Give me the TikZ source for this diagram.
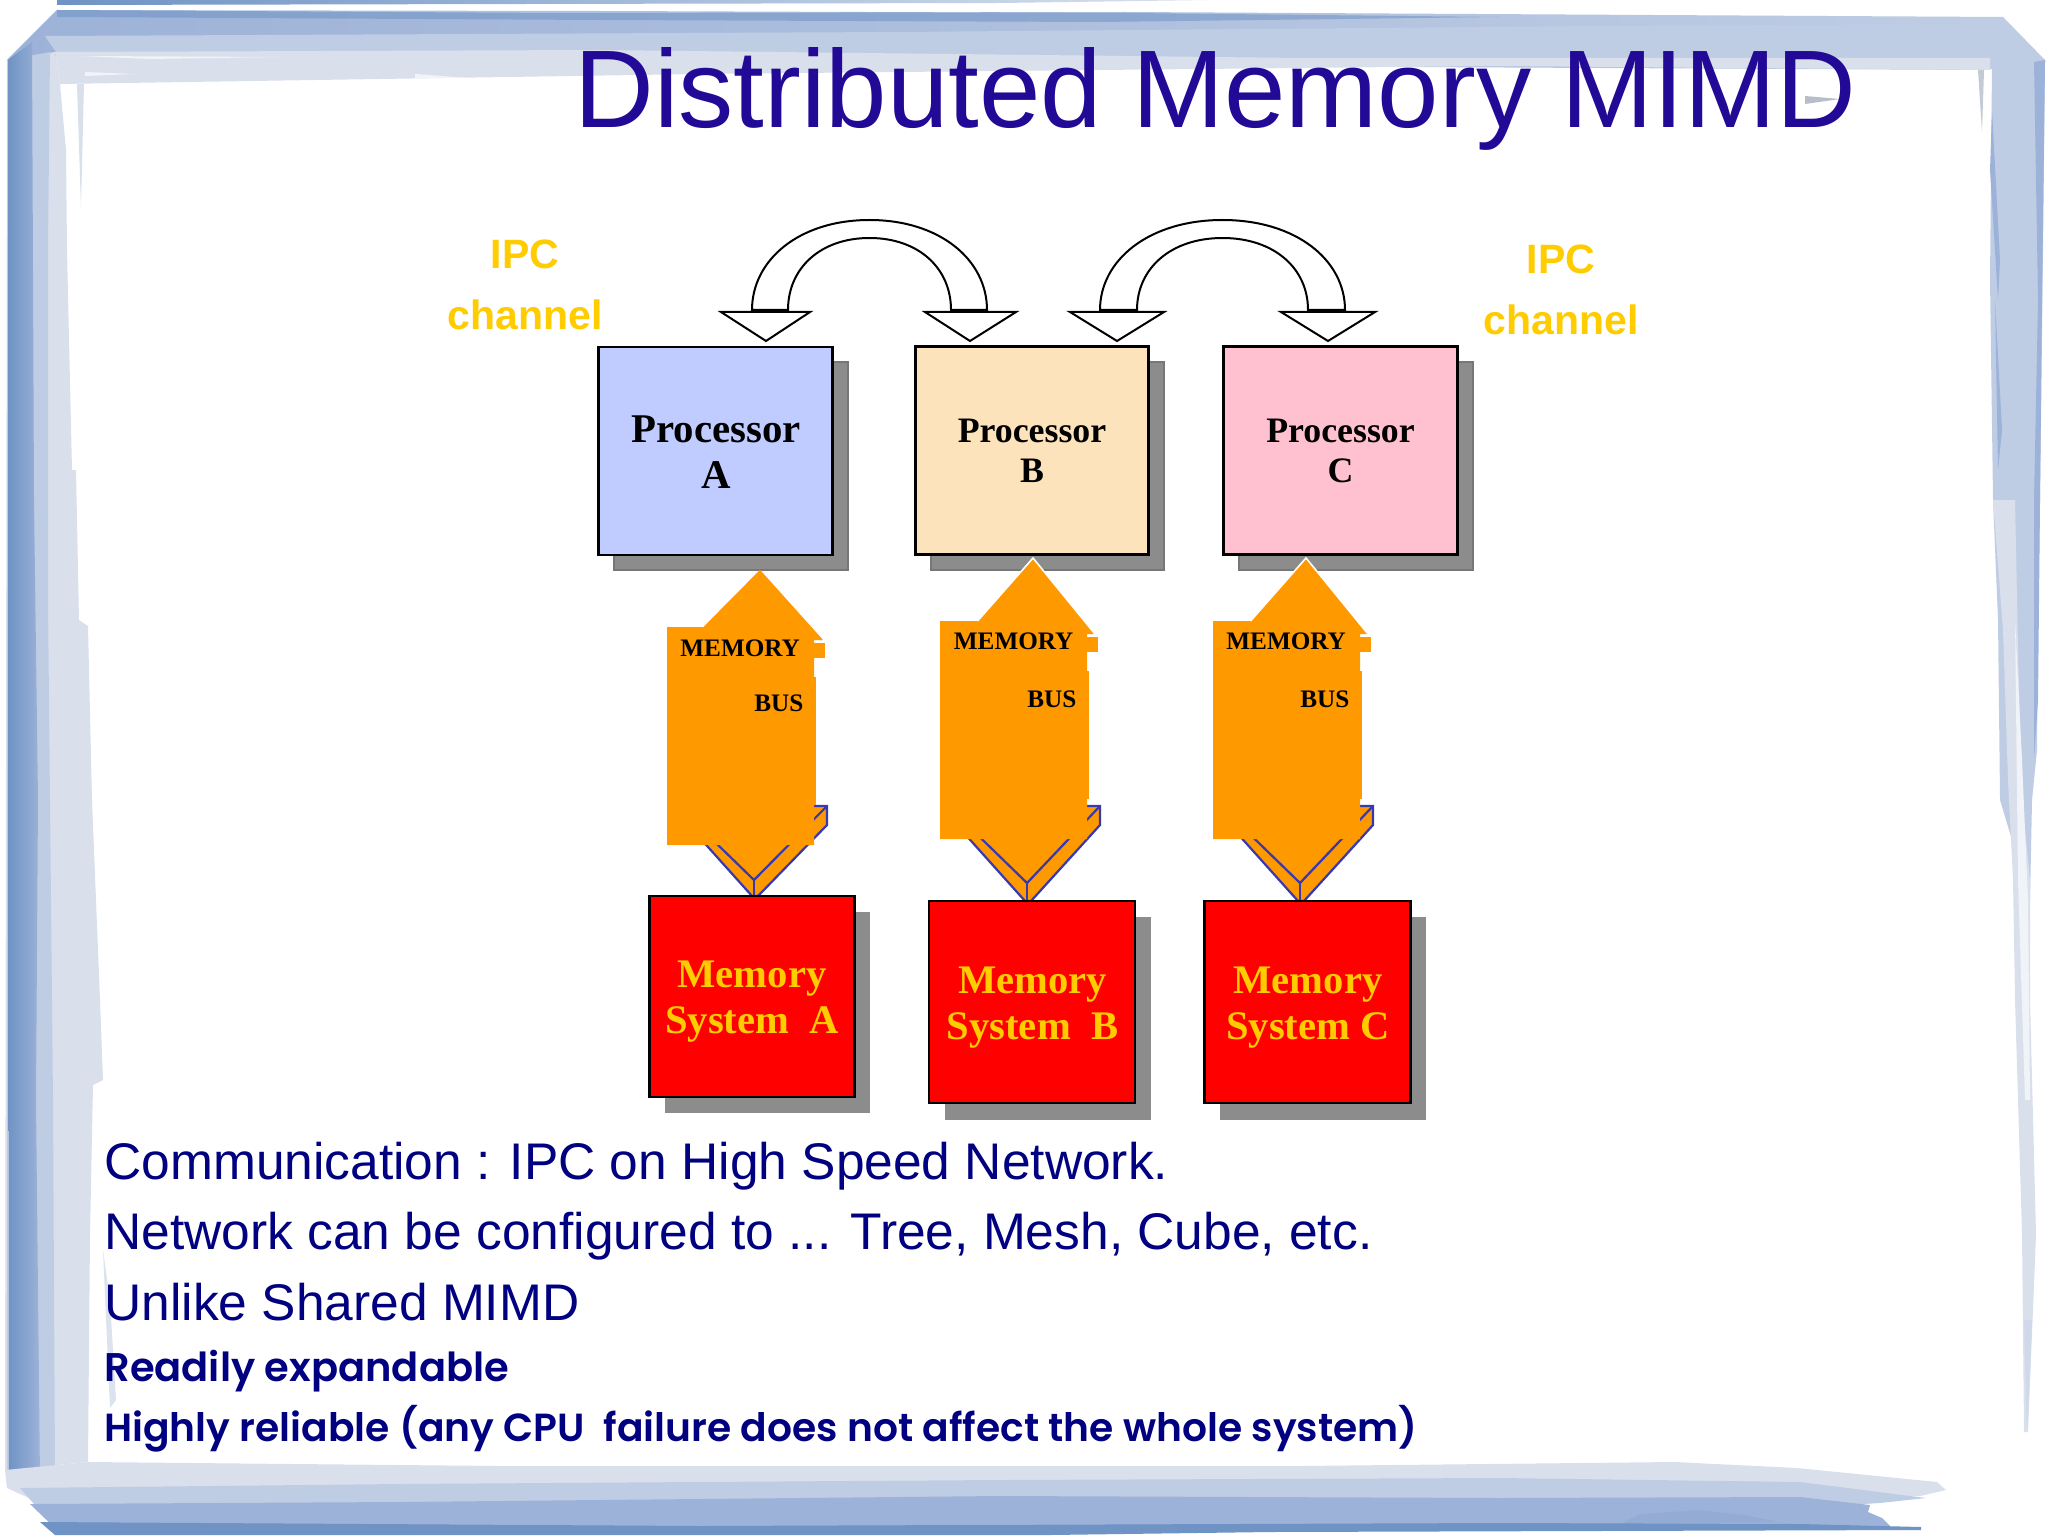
\documentclass[tikz,border=0pt]{standalone}
\usepackage{fontspec}
\setmainfont{Liberation Serif}
\newfontfamily\arialf{Liberation Sans}
\newfontfamily\gothf[BoldFont={Poppins SemiBold}]{Poppins}
\definecolor{titleblue}{HTML}{230A96}
\definecolor{bodynavy}{HTML}{000080}
\definecolor{ipcyellow}{HTML}{FFCC00}
\definecolor{busorange}{HTML}{FF9900}
\definecolor{busline}{HTML}{3838B0}
\definecolor{shadowgrey}{HTML}{8C8C8C}
\definecolor{procA}{HTML}{C0CCFF}
\definecolor{procB}{HTML}{FCE3BB}
\definecolor{procC}{HTML}{FFC0D0}
\definecolor{frdark}{HTML}{6E93C4}
\definecolor{frmid}{HTML}{9DB2D8}
\definecolor{frlight}{HTML}{BFCDE4}
\definecolor{frpale}{HTML}{D9E0EC}
\tikzset{
  boxnode/.style={draw=black,line width=1.3pt,inner sep=0pt,outer sep=0pt,minimum width=#1},
  proctext/.style={font=\bfseries\fontsize{#1}{20}\selectfont,align=center,inner sep=0pt},
  memtext/.style={font=\bfseries\fontsize{20.3}{23}\selectfont,align=center,inner sep=0pt,text=ipcyellow},
  bustext/.style={font=\bfseries\fontsize{12.6}{14}\selectfont,anchor=base west,inner sep=0pt},
  ipctext/.style={font=\arialf\bfseries\fontsize{20.5}{23.5}\selectfont,text=ipcyellow,align=center,inner sep=0pt},
  bodytext/.style={font=\arialf\fontsize{25.75}{30}\selectfont,text=bodynavy,anchor=base west,inner sep=0pt},
  goth/.style={font=\gothf\bfseries\fontsize{#1}{24}\selectfont,text=bodynavy,anchor=base west,inner sep=0pt},
  bandline/.style={draw=black,line width=1pt,fill=white},
  busstroke/.style={draw=busline,line width=1.1pt}
}
% #1 centre x, #2 outer half width, #3 inner half width
\newcommand{\arcband}[3]{%
  \draw[bandline]
    ({#1-#2},310) .. controls ({#1-#2},260) and ({#1-0.6*#2},220) .. (#1,220)
    .. controls ({#1+0.6*#2},220) and ({#1+#2},260) .. ({#1+#2},310) --
    ({#1+#3},310) .. controls ({#1+#3},268) and ({#1+0.6*#3},238) .. (#1,238)
    .. controls ({#1-0.6*#3},238) and ({#1-#3},268) .. ({#1-#3},310) -- cycle;
}
% #1 left x, #2 right x, #3 tip x
\newcommand{\headtri}[3]{%
  \draw[bandline,line join=miter] (#1,312) -- (#2,312) -- (#3,341) -- cycle;
}
% #1 name, #2 left x, #3 tip y, #4 top y, #5 bottom y, #6 apex y, #7 inner apex y, #8 tip edge colour
\newcommand{\busarrow}[8]{%
  \coordinate (#1apex) at ({#2+87},#6);
  \coordinate (#1inner) at ({#2+87},#7);
  \coordinate (#1corner) at ({#2+160},806);
  \coordinate (#1side) at ({#2+160},825);
  \coordinate (#1tip) at ({#2+93},#3);
  \fill[busorange] ({#2+15},{#6-78}) -- ({#2+85},#6) -- ({#2+91},#6) -- (#1side) -- (#1corner) -- ({#2+100},806) -- cycle;
  \draw[busstroke,line join=miter] ({#2+15},{#6-78}) -- ({#2+85},#6) -- ({#2+91},#6) -- (#1side) -- (#1corner) -- ({#2+140},806);
  \draw[busstroke] ({#2+15},{#7-70}) -- (#1inner) -- (#1corner);
  \draw[busstroke] (#1inner) -- (#1apex);
  \fill[busorange] (#2,#4) -- ({#2+37.5},#4) -- (#1tip) -- ({#2+155},{#4+13}) -- ({#2+147},{#4+13}) -- ({#2+147},#5) -- (#2,#5) -- cycle;
  \fill[busorange] ({#2+147},{#4+16}) rectangle ({#2+158},{#4+31});
  \fill[busorange] ({#2+147},{#4+50}) rectangle ({#2+148.5},{#5-40});
  \draw[#8,line width=.8pt] ({#2+37.5},#4) -- (#1tip) -- ({#2+155},{#4+13});
}
\begin{document}
\begin{tikzpicture}[x=.5pt,y=-.5pt]
\useasboundingbox (0,0) rectangle (2048,1535);
\fill[white] (0,0) rectangle (2048,1535);
% ---- frame: top
\shade[left color=frdark,right color=frlight!60!white] (57,0) -- (700,0) -- (1210,0) -- (1000,3) -- (57,5) -- cycle;
\shade[left color=frmid,right color=frlight] (57,10) -- (560,13) -- (1125,12) -- (2003,17) -- (2045,60) -- (1985,70) -- (60,60) -- (7,60) -- cycle;
\fill[frdark,opacity=.55] (57,10) -- (600,11) -- (1130,13) -- (1500,17) -- (1100,22) -- (600,20) -- (57,17) -- cycle;
\fill[frlight] (45,36) -- (900,32) -- (1600,26) -- (2003,24) -- (2000,62) -- (60,58) -- cycle;
\fill[frpale] (55,52) -- (600,50) -- (1300,58) -- (1990,58) -- (1990,70) -- (1500,66) -- (700,74) -- (60,84) -- cycle;
\fill[white!60!frpale] (80,56) -- (280,57) -- (150,59) -- cycle;
\fill[white!60!frpale] (85,72) -- (135,74) -- (85,76) -- cycle;
\fill[white!60!frpale] (415,74) -- (470,78) -- (415,78) -- cycle;
\fill[frpale!85!black] (1805,96) -- (1840,99) -- (1805,104) -- cycle;
% ---- frame: left
\fill[frpale] (7,60) -- (55,52) -- (60,84) -- (66,150) -- (67,250) -- (72,470) -- (76,470) -- (79,620) -- (88,626) -- (92,800) -- (100,1000) -- (103,1080) -- (93,1085) -- (90,1235) -- (88,1462) -- (5,1470) -- cycle;
\fill[frpale] (77,84) -- (84,84) -- (81,208) -- cycle;
\fill[frpale!90!white] (103,1250) -- (110,1300) -- (116,1400) -- (110,1408) -- cycle;
\fill[frlight] (7,60) -- (50,52) -- (48,250) -- (48,600) -- (50,800) -- (53,1100) -- (55,1470) -- (7,1488) -- cycle;
\shade[left color=frdark,right color=frmid] (8,60) -- (32,42) -- (34,500) -- (38,800) -- (36,1100) -- (40,1480) -- (9,1488) -- cycle;
% ---- frame: right
\fill[frlight] (1992,62) -- (2045,60) -- (2043,250) -- (2040,500) -- (2038,620) -- (2037,750) -- (2032,800) -- (2030,900) -- (2000,800) -- (1998,620) -- (1993,500) -- (1990,280) -- cycle;
\fill[frmid] (2034,62) -- (2045,60) -- (2042,300) -- (2038,700) -- (2034,760) -- (2034,500) -- (2038,300) -- cycle;
\fill[frpale] (1993,500) -- (2015,500) -- (2018,650) -- (2022,800) -- (2030,880) -- (2030,1000) -- (2036,1235) -- (2028,1432) -- (2024,1432) -- (2022,1235) -- (2015,1000) -- (2013,880) -- (2008,780) -- (2003,630) -- cycle;
\fill[white!60!frpale] (2015,620) -- (2022,760) -- (2028,900) -- (2030,1100) -- (2025,1100) -- (2018,880) -- cycle;
\fill[frmid] (1990,170) -- (1998,300) -- (2000,260) -- (1992,110) -- cycle;
\fill[frmid] (1995,300) -- (2002,430) -- (1998,470) -- cycle;
\fill[frpale!90!black] (1978,70) -- (1984,70) -- (1982,132) -- cycle;
\fill[frpale!85!frmid] (2024,1320) -- (2032,1320) -- (2027,1432) -- cycle;
% ---- frame: bottom
\fill[frpale] (88,1462) -- (500,1466) -- (900,1466) -- (1300,1466) -- (1675,1462) -- (1797,1468) -- (1937,1482) -- (1946,1490) -- (1920,1496) -- (1600,1510) -- (55,1510) -- (7,1488) -- (5,1470) -- cycle;
\fill[frlight] (20,1488) -- (400,1484) -- (1000,1480) -- (1500,1478) -- (1800,1482) -- (1926,1498) -- (1880,1503) -- (1600,1520) -- (55,1528) -- cycle;
\fill[frmid] (30,1504) -- (400,1502) -- (1000,1496) -- (1500,1498) -- (1800,1497) -- (1870,1505) -- (1868,1512) -- (1882,1518) -- (1890,1526) -- (60,1533) -- cycle;
\fill[frmid!80!frdark] (1640,1514) -- (1700,1510) -- (1745,1515) -- (1780,1522) -- (1620,1524) -- cycle;
\fill[frdark] (40,1522) -- (700,1526) -- (1500,1523) -- (1800,1524) -- (1921,1527) -- (1921,1530) -- (1270,1532) -- (1050,1535) -- (55,1535) -- cycle;
% ---- title
\node[font=\arialf\fontsize{55.2}{60}\selectfont,text=titleblue,anchor=base west,inner sep=0pt] (title) at (574,128) {Distributed Memory MIMD};
% ---- IPC labels
\node[ipctext] (ipcleft) at (525,285) {IPC\\[7pt]channel};
\node[ipctext] (ipcright) at (1561,290) {IPC\\[7pt]channel};
% ---- processor shadows and boxes
\fill[shadowgrey] (614,362) rectangle (848,570);
\draw[shadowgrey!85!black,line width=.6pt] (832,362) -- (848,362) -- (848,570) -- (614,570) -- (614,555);
\fill[shadowgrey] (931,362) rectangle (1164,570);
\draw[shadowgrey!85!black,line width=.6pt] (1149,362) -- (1164,362) -- (1164,570) -- (931,570) -- (931,555);
\fill[shadowgrey] (1239,362) rectangle (1473,570);
\draw[shadowgrey!85!black,line width=.6pt] (1457,362) -- (1473,362) -- (1473,570) -- (1239,570) -- (1239,555);
\node[boxnode=117pt,minimum height=104pt,fill=procA] (pa) at (715.5,451) {};
\node[boxnode=116.5pt,minimum height=104pt,fill=procB] (pb) at (1032,450.5) {};
\node[boxnode=117pt,minimum height=104pt,fill=procC] (pc) at (1340.5,450.5) {};
\node[proctext=20.4] (palabel) at (716,452.5) {\fontsize{20.4}{23}\selectfont Processor\\[3pt]A};
\node[proctext=17.9] (pblabel) at (1032,450.5) {Processor\\B};
\node[proctext=17.9] (pclabel) at (1340.5,450.5) {Processor\\C};
% ---- IPC block arrows
\arcband{869.5}{117.5}{81.5}
\headtri{721}{810}{766}
\headtri{925}{1016}{970}
\arcband{1222.5}{122.5}{85.5}
\headtri{1070}{1164}{1117}
\headtri{1281}{1375}{1328}
\draw[black,line width=1.3pt] (1105,310) -- (1137,310);
\draw[black,line width=1.3pt] (1309,310) -- (1341,310);
% ---- memory boxes
\fill[shadowgrey] (665,912) rectangle (870,1113);
\fill[shadowgrey] (945,917) rectangle (1151,1120);
\fill[shadowgrey] (1220,917) rectangle (1426,1120);
% ---- memory buses
\busarrow{ba}{667}{571}{627}{845}{896}{880}{busorange}
\busarrow{bb}{940}{558}{621}{839}{901}{883}{white}
\busarrow{bc}{1213}{558}{621}{839}{901}{883}{white}
\node[boxnode=102.5pt,minimum height=100.5pt,fill=red] (ma) at (752,996.5) {};
\node[boxnode=103pt,minimum height=101pt,fill=red] (mb) at (1032,1002) {};
\node[boxnode=103pt,minimum height=101pt,fill=red] (mc) at (1307.5,1002) {};
\node[memtext] (malabel) at (752,1001.5) {Memory\\System\ \ A};
\node[memtext] (mblabel) at (1032.5,1007.5) {Memory\\System\ \ B};
\node[memtext] (mclabel) at (1308,1007.5) {Memory\\System C};
\node[bustext] (busa1) at (680,656) {MEMORY};
\node[bustext] (busa2) at (754,711) {BUS};
\node[bustext] (busb1) at (953.5,649) {MEMORY};
\node[bustext] (busb2) at (1027,707) {BUS};
\node[bustext] (busc1) at (1226,649) {MEMORY};
\node[bustext] (busc2) at (1300,707) {BUS};
% ---- body text
\node[bodytext] (l1) at (104,1179) {Communication : IPC on High Speed Network.};
\node[bodytext] (l2) at (104,1249) {Network can be configured to ... Tree, Mesh, Cube, etc.};
\node[bodytext] (l3) at (104,1320) {Unlike Shared MIMD};
\node[goth=20] (l4) at (104,1381) {Readily expandable};
\node[goth=19.6] (l5) at (104,1441) {Highly reliable (any CPU\ \ failure does not affect the whole system)};
\end{tikzpicture}
\end{document}
